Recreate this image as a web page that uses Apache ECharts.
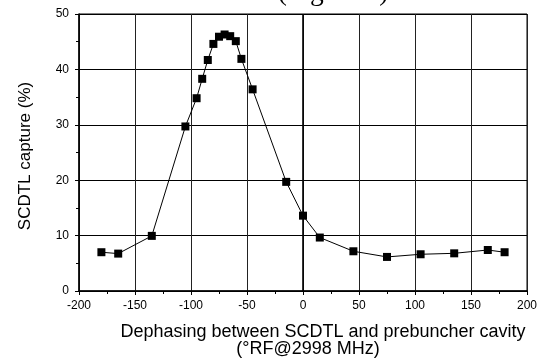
<!DOCTYPE html>
<html>
<head>
<meta charset="utf-8">
<script src="https://cdn.jsdelivr.net/npm/echarts@6/dist/echarts.min.js"></script>
<style>
html,body{margin:0;padding:0;background:#fff;}
#c{width:544px;height:360px;}
</style>
</head>
<body>
<div id="c"></div>
<script>
// Data
var phaseDeg = [-180, -165, -135, -105, -95, -90, -85, -80, -75, -70, -65, -60, -55, -45, -15, 0, 15, 45, 75, 105, 135, 165, 180];
var capturePct = [7.0, 6.75, 9.95, 29.7, 34.8, 38.3, 41.7, 44.6, 45.9, 46.3, 46.0, 45.1, 41.9, 36.4, 19.7, 13.6, 9.65, 7.17, 6.15, 6.63, 6.8, 7.4, 7.0];
var xTicks = [-200, -150, -100, -50, 0, 50, 100, 150, 200];
var yTicks = [0, 10, 20, 30, 40, 50];
var yTitle = 'SCDTL capture (%)';
var xTitle1 = 'Dephasing between SCDTL and prebuncher cavity';
var xTitle2 = '(°RF@2998 MHz)';
var topText = 'section and the SCDTL (Figure 2).';

var points = phaseDeg.map(function (p, i) { return [p, capturePct[i]]; });

var chart = echarts.init(document.getElementById('c'), null, {renderer: 'canvas'});
var font = '"Liberation Sans", Arial, sans-serif';
var gridL = 79, gridR = 17, gridT = 14, gridB = 69;

chart.setOption({
  animation: false,
  backgroundColor: '#fff',
  grid: {left: gridL, right: gridR, top: gridT, bottom: gridB, show: true, borderColor: '#000', borderWidth: 1},
  xAxis: {
    type: 'value',
    min: xTicks[0], max: xTicks[xTicks.length - 1], interval: 50,
    axisLine: {show: true, onZero: false, lineStyle: {color: '#000', width: 1.5}},
    axisTick: {show: true, inside: false, length: 4, lineStyle: {color: '#000', width: 1}},
    minorTick: {show: true, splitNumber: 2, length: 3, lineStyle: {color: '#000', width: 1}},
    splitLine: {show: true, lineStyle: {color: '#222', width: 1}},
    axisLabel: {color: '#000', fontSize: 12, fontFamily: font, margin: 9}
  },
  yAxis: {
    type: 'value',
    min: yTicks[0], max: yTicks[yTicks.length - 1], interval: 10,
    axisLine: {show: true, onZero: false, lineStyle: {color: '#000', width: 1.5}},
    axisTick: {show: true, inside: false, length: 4, lineStyle: {color: '#000', width: 1}},
    minorTick: {show: true, splitNumber: 2, length: 3, lineStyle: {color: '#000', width: 1}},
    splitLine: {show: true, lineStyle: {color: '#000', width: 1}},
    axisLabel: {color: '#000', fontSize: 12, fontFamily: font, margin: 10}
  },
  series: [{
    type: 'line',
    data: points,
    symbol: 'rect',
    symbolSize: 8,
    itemStyle: {color: '#000'},
    lineStyle: {color: '#000', width: 1},
    markLine: {
      silent: true,
      symbol: 'none',
      label: {show: false},
      lineStyle: {color: '#000', width: 1.6, type: 'solid'},
      data: [{xAxis: 0}]
    },
    z: 5
  }],
  graphic: [
    {type: 'text', x: 25, y: 156, rotation: Math.PI / 2,
     style: {text: yTitle, font: '17px ' + font, fill: '#000', textAlign: 'center', textVerticalAlign: 'middle'}},
    {type: 'text', x: 323, y: 332,
     style: {text: xTitle1, font: '18px ' + font, fill: '#000', textAlign: 'center', textVerticalAlign: 'middle'}},
    {type: 'text', x: 308, y: 349,
     style: {text: xTitle2, font: '18px ' + font, fill: '#000', textAlign: 'center', textVerticalAlign: 'middle'}},
    {type: 'text', x: 12, y: 7,
     style: {text: topText, font: '27.5px "Liberation Serif", "Times New Roman", serif', fill: '#000', textAlign: 'left', textVerticalAlign: 'bottom'}}
  ]
});
</script>
</body>
</html>
